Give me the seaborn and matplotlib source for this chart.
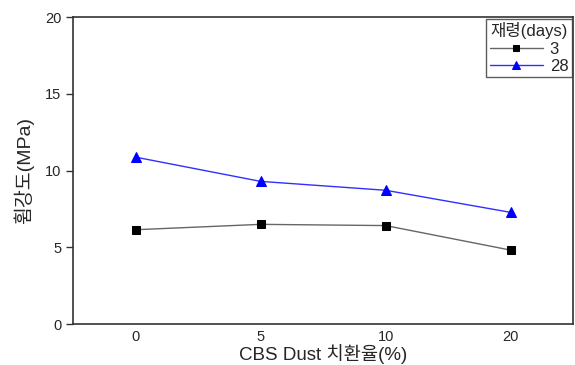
import matplotlib
matplotlib.use("Agg")
import matplotlib.pyplot as plt
import seaborn as sns
import pandas as pd

# ====================
# DATA
# ====================
replacement = ["0", "5", "10", "20"]
strength_3d = [6.15, 6.5, 6.42, 4.82]
strength_28d = [10.88, 9.3, 8.72, 7.28]

df = pd.DataFrame({
    "rate": replacement * 2,
    "strength": strength_3d + strength_28d,
    "age": ["3"] * 4 + ["28"] * 4,
})

sns.set_style("white")
plt.rcParams["font.family"] = ["Liberation Sans", "Noto Sans CJK KR", "DejaVu Sans"]

fig, ax = plt.subplots(figsize=(5.75, 3.65), dpi=100)
fig.subplots_adjust(left=0.127, right=0.997, top=0.953, bottom=0.112)

sub3 = df[df["age"] == "3"]
sub28 = df[df["age"] == "28"]

sns.lineplot(data=sub3, x="rate", y="strength", ax=ax, color="#666666",
             linewidth=1.0, marker="s", markersize=6, markerfacecolor="black",
             markeredgecolor="black", label="3", sort=False)
sns.lineplot(data=sub28, x="rate", y="strength", ax=ax, color="#3030ff",
             linewidth=1.0, marker="^", markersize=7, markerfacecolor="#0000ff",
             markeredgecolor="#0000ff", label="28", sort=False)

ax.set_xlim(-0.5, 3.5)
ax.set_ylim(0, 20)
ax.set_yticks([0, 5, 10, 15, 20])
ax.tick_params(axis="y", direction="out", length=5, width=1, color="#333333",
               labelsize=10.5, left=True)
ax.tick_params(axis="x", length=0, labelsize=10.5, pad=4)

for sp in ax.spines.values():
    sp.set_color("#333333")
    sp.set_linewidth(1.2)

ax.set_xlabel("CBS Dust 치환율(%)", fontsize=13.5, labelpad=0)
ax.set_ylabel("휨강도(MPa)", fontsize=14, labelpad=8)

leg = ax.legend(title="재령(days)", loc="upper right", fontsize=12,
                title_fontsize=12, frameon=True, fancybox=False,
                borderaxespad=0.1, handlelength=3.2, labelspacing=0.15,
                borderpad=0.2, handletextpad=0.4, markerscale=0.8)
leg.get_frame().set_edgecolor("#333333")
leg.get_frame().set_linewidth(1.0)

plt.savefig("out.png", dpi=100)
plt.close()
